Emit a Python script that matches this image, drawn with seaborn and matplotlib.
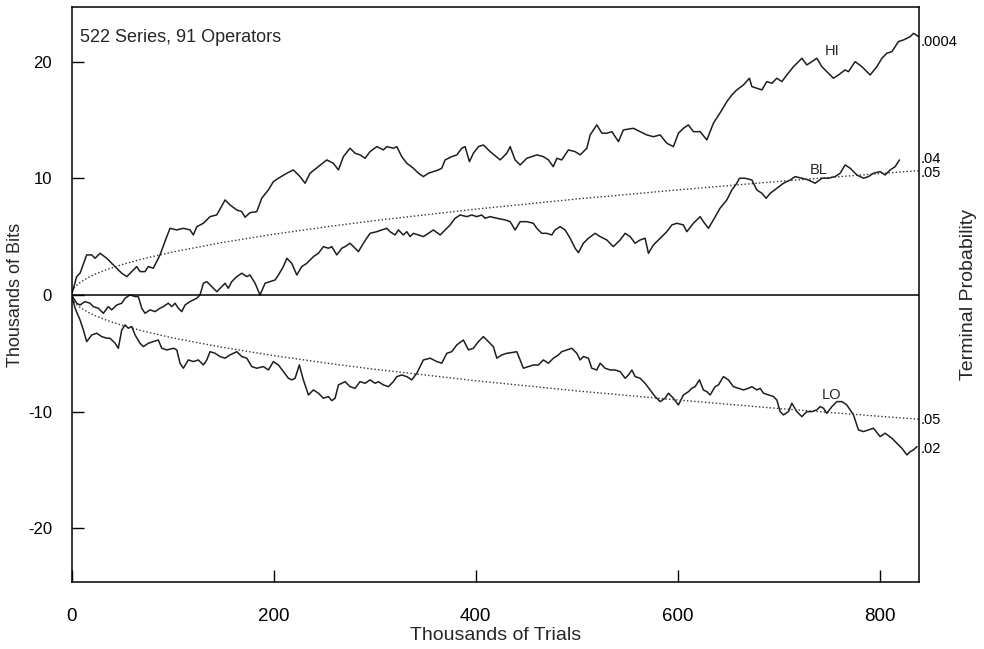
import matplotlib
matplotlib.use("Agg")
import matplotlib.pyplot as plt
import seaborn as sns

# Kurven (Tausend Versuche / Tausend Bits)
hi_x = [0, 5.1, 8.4, 15, 20, 23.3, 28.2, 34.9, 41.4, 49.7, 54.7, 59.6, 64.5, 67.8, 72.8, 76, 81, 87.6,
        94.3, 97.5, 104.2, 110.7, 117.3, 120.6, 124, 130.5, 137.1, 143.8, 152, 156.9, 163.6, 168.5,
        171.8, 176.7, 183.4, 188.3, 194.9, 199.8, 204.8, 213.1, 219.6, 226.2, 231.2, 236.1, 244.4,
        252.7, 259.2, 264.2, 269.1, 275.7, 280.7, 285.6, 290.6, 295.5, 302.2, 308.7, 312.1, 318.6,
        322, 326.9, 331.9, 338.4, 343.4, 348.3, 353.3, 358.2, 363.2, 366.5, 369.8, 376.4, 381.4,
        386.3, 389.6, 393.9, 397.8, 402.8, 407.7, 414.4, 424.3, 430.9, 434.2, 439.1, 444.1, 450.7,
        455.6, 460.6, 467.1, 472.1, 476.9, 480.4, 485.3, 491.9, 498.5, 503.5, 510.1, 513.4, 520,
        525, 529.9, 534.9, 541.4, 546.3, 556.2, 562.9, 569.5, 576, 582.7, 589.3, 595.8, 600.8,
        605.7, 610.7, 615.6, 622.3, 628.9, 635.4, 643.8, 648.7, 653.7, 658.6, 665.2, 671.1, 673.5,
        678.4, 683.4, 688.3, 693.3, 698.2, 703.2, 708.1, 714.7, 723, 727.9, 732.9, 737.8, 742.8,
        747.7, 754.3, 759.2, 765.8, 769.1, 775.7, 782.4, 790.6, 797.2, 802.2, 807.1, 812.1, 818.6,
        823.6, 830.2, 833.6, 838.6]
hi_y = [0, 1.57, 1.86, 3.43, 3.43, 3.14, 3.57, 3.14, 2.57, 1.86, 1.57, 2.0, 2.43, 2.0, 2.0, 2.43, 2.29,
        3.43, 5.0, 5.71, 5.57, 5.71, 5.57, 5.14, 5.85, 6.14, 6.71, 6.86, 8.14, 7.71, 7.28, 7.14,
        6.66, 7.05, 7.14, 8.29, 9.0, 9.71, 10.0, 10.43, 10.71, 10.14, 9.57, 10.43, 11.0,
        11.57, 11.28, 10.71, 11.85, 12.57, 12.14, 12.0, 11.71, 12.28, 12.71, 12.43, 12.71, 12.57,
        12.71, 11.85, 11.28, 10.86, 10.43, 10.14, 10.43, 10.57, 10.71, 10.86, 11.57, 11.85, 12.0,
        12.57, 12.71, 11.42, 12.14, 12.71, 12.85, 12.28, 11.57, 12.14, 12.71, 11.57, 11.14, 11.71,
        11.85, 12.0, 11.85, 11.57, 10.99, 11.71, 11.57, 12.43, 12.28, 12.0, 12.57, 13.71, 14.57,
        13.86, 13.86, 13.99, 13.14, 14.14, 14.28, 13.99, 13.71, 13.56, 13.71, 13.0, 12.71, 13.86,
        14.28, 14.57, 13.99, 13.99, 13.28, 14.71, 15.85, 16.56, 17.14, 17.57, 18.0, 18.57, 17.85,
        17.71, 17.57, 18.28, 18.14, 18.57, 18.28, 18.85, 19.56, 20.28, 19.71, 19.99, 20.28, 19.56,
        19.13, 18.57, 18.85, 19.28, 19.13, 19.99, 19.56, 18.85, 19.56, 20.28, 20.71, 20.85, 21.71,
        21.85, 22.13, 22.42, 22.13]

bl_x = [0, 5.1, 8.4, 13.4, 18.3, 21.6, 26.5, 31.5, 36.4, 39.8, 44.8, 49.7, 53, 57.9, 62.9, 66.1, 69.5,
        72.8, 77.7, 82.7, 87.6, 90.9, 95.8, 99.2, 102.5, 105.7, 109.1, 112.4, 117.3, 124, 127.2,
        130.5, 133.9, 138.8, 143.8, 148.7, 152, 155.2, 158.6, 163.6, 168.5, 173.5, 176.7, 181.7,
        186.6, 191.6, 196.5, 201.5, 204.8, 209.7, 213.1, 218, 223, 227.9, 232.9, 239.4, 244.4,
        249.3, 254.3, 257.6, 262.6, 267.5, 270.8, 275.7, 280.7, 284, 288.9, 295.5, 302.2, 307.1,
        312.1, 315.3, 320.3, 323.6, 328.5, 331.9, 335.1, 338.4, 343.4, 348.3, 353.3, 358.2, 364.9,
        369.8, 374.8, 379.7, 384.7, 391.3, 396.2, 401.2, 406.1, 409.4, 414.4, 421, 429.2, 434.2,
        439.1, 444.1, 450.7, 457.2, 460.6, 465.5, 470.5, 475.4, 478.7, 483.7, 488.6, 493.6, 498.5,
        501.8, 506.7, 511.7, 518.3, 523.3, 529.9, 536.4, 543.1, 548, 553, 557.9, 562.9, 567.8,
        571.1, 576, 582.7, 589.3, 594.3, 599.2, 605.7, 609.1, 615.6, 620.6, 622.3, 625.5, 630.5,
        635.4, 642, 648.7, 653.7, 658.6, 661.2, 666.8, 673.5, 678.4, 683.4, 687.6, 691.6, 698.2,
        704.8, 711.4, 716.3, 723, 729.5, 736.1, 742.8, 749.3, 755.9, 760.9, 765.8, 770.8, 777.4,
        784, 788.9, 793.9, 800.5, 805.4, 810.4, 815.3, 819.6]
bl_y = [0, -0.71, -0.86, -0.57, -0.71, -1.0, -1.14, -1.57, -1.0, -1.28, -0.86, -0.71, -0.28, 0.0, -0.14,
        -0.14, -1.14, -1.57, -1.28, -1.43, -1.14, -1.0, -0.71, -1.0, -0.71, -1.14, -1.43, -0.86,
        -0.57, -0.28, 0.0, 1.0, 1.14, 0.71, 0.28, 0.71, 1.0, 0.57, 1.14, 1.57, 1.86, 1.57, 1.71,
        1.0, 0.0, 1.0, 1.14, 1.28, 1.71, 2.43, 3.14, 2.71, 1.71, 2.43, 2.71, 3.28, 3.57,
        4.14, 4.0, 4.14, 3.43, 4.0, 4.14, 4.43, 4.0, 3.71, 4.43, 5.28, 5.42, 5.57,
        5.71, 5.42, 5.14, 5.57, 5.14, 5.42, 5.0, 5.28, 5.14, 5.0, 5.28, 5.57, 5.14,
        5.57, 6.0, 6.57, 6.85, 6.71, 6.85, 6.71, 6.85, 6.57, 6.71, 6.57, 6.43, 6.28,
        5.57, 6.28, 6.28, 6.14, 5.71, 5.28, 5.28, 5.14, 5.57, 5.85, 5.57, 4.86, 4.0,
        3.62, 4.43, 4.86, 5.28, 5.0, 4.71, 4.14, 4.71, 5.28, 5.0, 4.43, 4.71, 4.86,
        3.57, 4.28, 4.86, 5.42, 6.0, 6.14, 6.0, 5.42, 6.14, 6.57, 6.71, 6.28, 5.71,
        6.43, 7.43, 8.14, 9.0, 9.57, 10.0, 10.0, 9.85, 9.0, 8.71, 8.28, 8.71, 9.14,
        9.57, 9.85, 10.14, 10.0, 9.85, 9.57, 10.0, 10.0, 10.14, 10.43, 11.14, 10.86, 10.28,
        10.0, 10.14, 10.43, 10.57, 10.28, 10.71, 10.99, 11.57]

lo_x = [0, 3.5, 8.4, 11.7, 15, 20, 25, 29.9, 34.9, 38.1, 43.1, 46.3, 49.7, 53, 56.2, 59.6, 62.9, 67.8,
        71.1, 76, 81, 85.9, 89.3, 94.3, 100.8, 104.2, 107.4, 110.7, 115.6, 120.6, 125.5, 130.5,
        133.9, 137.1, 142.1, 147, 152, 156.9, 163.6, 168.5, 173.5, 178.4, 183.4, 189.9, 194.9,
        199.8, 204.8, 209.7, 214.7, 218, 221.3, 225.5, 229.5, 234.5, 239.4, 244.4, 249.3, 254.3,
        257.6, 260.9, 264.2, 270.8, 275.7, 280.7, 285.6, 290.6, 295.5, 300.5, 303.8, 308.7, 313.7,
        318.6, 322, 326.9, 331.9, 336.8, 341.8, 348.3, 355, 361.6, 366.5, 371.5, 376.4, 381.4,
        387.9, 392.9, 397.8, 402.8, 407.7, 412.7, 417.6, 421, 425.9, 430.9, 435.8, 440.8, 444.1,
        447.3, 452.3, 457.2, 462.2, 467.1, 472.1, 477, 482, 485.3, 490.3, 495.2, 500.2, 503.5,
        506.7, 511.7, 515, 520, 523.3, 528.2, 533.2, 538.1, 543.1, 548, 551.3, 554.7, 558, 562.9,
        567.8, 572.8, 577.7, 582.7, 587.6, 590.9, 595.8, 600.8, 605.7, 610.7, 614.1, 617.3, 621.6,
        625.5, 628.9, 632.2, 637.1, 640.4, 645.3, 650.3, 655.2, 660.2, 665.2, 670.1, 673.5, 678.4,
        681.7, 685, 690, 694.9, 698.2, 701.5, 704.8, 709.7, 713.1, 718, 723, 727.9, 732.9, 737.8,
        741.1, 744.4, 747.7, 752.7, 757.6, 762.6, 767.5, 774.1, 779, 784, 788.9, 793.9, 800.5,
        805.4, 812.1, 817, 822, 827, 830.2, 833.5, 836.9]
lo_y = [0, -1.14, -2.14, -3.0, -4.0, -3.43, -3.28, -3.57, -3.71, -3.71, -4.14, -4.57, -3.0, -2.57, -2.85,
        -2.71, -3.43, -4.14, -4.43, -4.14, -4.0, -3.86, -4.57, -4.71, -4.57, -4.71, -5.85, -6.28,
        -5.57, -5.71, -5.57, -6.0, -5.57, -4.86, -5.0, -5.28, -5.42, -5.14, -4.86, -5.28, -5.42,
        -6.14, -6.28, -6.14, -6.43, -5.71, -6.0, -6.57, -7.14, -7.28, -7.14, -6.0, -7.28, -8.57,
        -8.14, -8.42, -8.85, -8.71, -9.06, -8.85, -7.71, -7.43, -7.86, -8.0, -7.43, -7.57, -7.28,
        -7.57, -7.43, -7.71, -7.86, -7.43, -7.0, -6.86, -7.0, -7.28, -6.71, -5.57, -5.42, -5.71,
        -5.85, -5.0, -4.86, -4.28, -3.86, -4.71, -4.57, -4.0, -3.57, -4.0, -4.43, -5.42, -5.14,
        -5.0, -4.94, -4.86, -5.57, -6.28, -6.14, -6.0, -6.0, -5.57, -5.85, -5.42, -5.14, -4.86,
        -4.71, -4.57, -5.0, -5.57, -5.28, -5.42, -6.28, -6.43, -5.85, -6.28, -6.43, -6.43, -6.57,
        -7.14, -6.86, -6.43, -7.0, -7.14, -7.57, -8.14, -8.71, -9.14, -8.85, -8.42, -8.85, -9.43,
        -8.57, -8.29, -8.0, -7.86, -7.28, -8.14, -8.29, -8.57, -7.86, -7.71, -7.0, -7.28, -7.86,
        -8.0, -8.14, -8.0, -7.86, -8.14, -8.0, -8.42, -8.57, -8.71, -9.0, -10.0, -10.28, -10.0,
        -9.28, -10.0, -10.43, -10.0, -10.0, -9.85, -9.57, -9.71, -10.14, -9.57, -9.14, -9.14,
        -9.43, -10.28, -11.57, -11.71, -11.57, -11.42, -12.14, -11.85, -12.28, -12.71, -13.14,
        -13.71, -13.43, -13.28, -13.0]

# Gepunktete Grenzkurven (p = .05)
env_x = [0, 1, 3, 6, 10, 18, 25, 35, 50, 70, 100, 150, 200, 250, 300, 400, 500, 600, 700, 800, 839]
env_hi = [0, 0.37, 0.64, 0.9, 1.16, 1.56, 1.84, 2.18, 2.6, 3.08, 3.68, 4.5, 5.2, 5.81, 6.37, 7.35,
          8.22, 9.0, 9.73, 10.4, 10.65]
env_lo = [0, -0.37, -0.64, -0.9, -1.16, -1.56, -1.84, -2.18, -2.6, -3.08, -3.68, -4.5, -5.2, -5.81,
          -6.37, -7.35, -8.22, -9.0, -9.73, -10.4, -10.65]

# Beschriftungen rechts
prob_pos = [21.8, 11.8, 10.6, -10.6, -13.1]
prob_labels = [".0004", ".04", ".05", ".05", ".02"]

sns.set_theme(style="ticks")
plt.rcParams["font.family"] = ["Liberation Sans", "DejaVu Sans"]
plt.rcParams["axes.unicode_minus"] = False

fig = plt.figure(figsize=(9.84, 6.49), dpi=100)
ax = fig.add_axes([0.0727, 0.1032, 0.8613, 0.8856])

line_col = "#1e1e1e"
for xs, ys in [(hi_x, hi_y), (bl_x, bl_y), (lo_x, lo_y)]:
    sns.lineplot(x=xs, y=ys, ax=ax, color=line_col, linewidth=1.1, sort=False, estimator=None)

for ys in [env_hi, env_lo]:
    sns.lineplot(x=env_x, y=ys, ax=ax, color="#333333", linewidth=1.0,
                 linestyle=(0, (1, 1.6)), sort=False, estimator=None)

ax.axhline(0, color="black", linewidth=1.1)

ax.set_xlim(0, 839)
ax.set_ylim(-24.6, 24.65)
ax.set_xticks([0, 200, 400, 600, 800])
ax.set_yticks([-20, -10, 0, 10, 20])
ax.set_yticklabels(["-20", "-10", "0", "10", "20"])
ax.tick_params(axis="both", direction="in", length=8.5, width=1, colors="black")
ax.tick_params(axis="y", pad=14, labelsize=12)
ax.tick_params(axis="x", pad=19, labelsize=13.5)
ax.set_xlabel("Thousands of Trials", fontsize=14, labelpad=1)
ax.set_ylabel("Thousands of Bits", fontsize=13, labelpad=3)
for s in ax.spines.values():
    s.set_color("black")
    s.set_linewidth(1.1)

ax2 = ax.twinx()
ax2.set_ylim(ax.get_ylim())
ax2.set_yticks(prob_pos)
ax2.set_yticklabels(prob_labels)
ax2.tick_params(axis="y", length=0, pad=1, labelsize=10.5, colors="black")
ax2.set_ylabel("Terminal Probability", fontsize=14, labelpad=2)
for s in ax2.spines.values():
    s.set_visible(False)

ax.text(0.01, 0.948, "522 Series, 91 Operators", transform=ax.transAxes,
        fontsize=13, va="center", ha="left")
ax.text(753, 20.9, "HI", fontsize=10.5, ha="center", va="center")
ax.text(740, 10.7, "BL", fontsize=10.5, ha="center", va="center")
ax.text(752, -8.6, "LO", fontsize=10.5, ha="center", va="center")

fig.savefig("out.png", dpi=100)
